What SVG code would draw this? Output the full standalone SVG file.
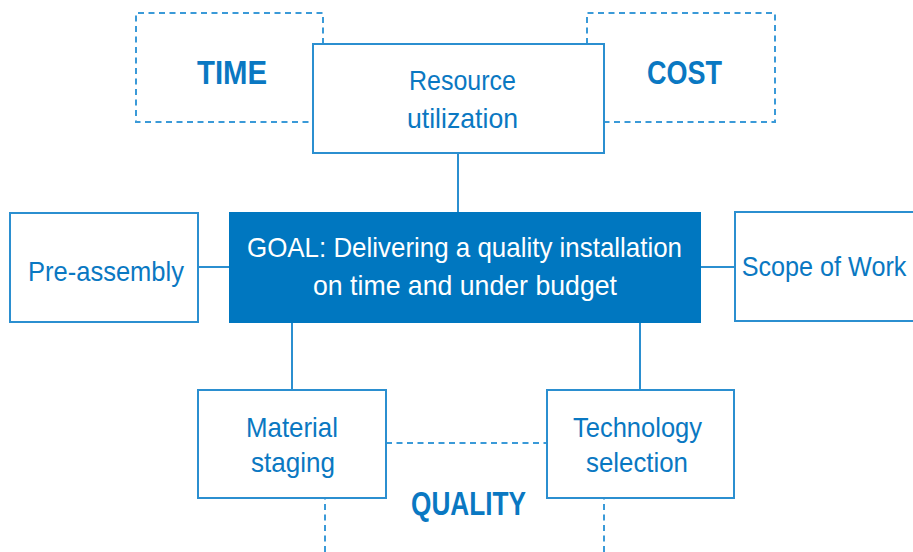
<svg xmlns="http://www.w3.org/2000/svg" width="913" height="552" viewBox="0 0 913 552">
<style>
.box{fill:#fff;stroke:#2b8fd0;stroke-width:2}
.goal{fill:#0077c0;stroke:#0077c0;stroke-width:2}
.ln{stroke:#2b8fd0;stroke-width:2;fill:none}
.dash{stroke:#3a9ad8;stroke-width:2;fill:none;stroke-dasharray:6 4.5}
.t{font-family:"Liberation Sans","Arial",sans-serif;font-size:28px;fill:#0a78c2;text-anchor:middle}
.w{fill:#fff}
.b{font-family:"Liberation Sans","Arial",sans-serif;font-weight:bold;font-size:34px;fill:#0a78c2;text-anchor:middle}
</style>
<rect width="913" height="552" fill="#fff"/>
<g id="dashed">
<path class="dash" d="M323,44 V13 H136 V122 H313"/>
<path class="dash" d="M587,44 V13 H775 V122 H604"/>
<path class="dash" d="M325,552 V498 M604,552 V498 M386,443 H547"/>
</g>
<g id="connectors">
<line class="ln" x1="458" y1="153" x2="458" y2="213"/>
<line class="ln" x1="198" y1="267" x2="230" y2="267"/>
<line class="ln" x1="700" y1="267" x2="735" y2="267"/>
<line class="ln" x1="292" y1="322" x2="292" y2="390"/>
<line class="ln" x1="640" y1="322" x2="640" y2="390"/>
</g>
<g id="time"><text class="b" x="232" y="84" textLength="70" lengthAdjust="spacingAndGlyphs">TIME</text></g>
<g id="cost"><text class="b" x="684.5" y="84" textLength="75" lengthAdjust="spacingAndGlyphs">COST</text></g>
<g id="quality"><text class="b" x="468.5" y="515" textLength="115" lengthAdjust="spacingAndGlyphs">QUALITY</text></g>
<g id="resource">
<rect class="box" x="313" y="44" width="291" height="109"/>
<text class="t" x="462.5" y="90" textLength="107" lengthAdjust="spacingAndGlyphs">Resource</text>
<text class="t" x="462.5" y="128" textLength="111" lengthAdjust="spacingAndGlyphs">utilization</text>
</g>
<g id="goal">
<rect class="goal" x="230" y="213" width="470" height="109"/>
<text class="t w" x="464.5" y="257" textLength="435" lengthAdjust="spacingAndGlyphs">GOAL: Delivering a quality installation</text>
<text class="t w" x="465" y="295" textLength="304" lengthAdjust="spacingAndGlyphs">on time and under budget</text>
</g>
<g id="preassembly">
<rect class="box" x="10" y="213" width="188" height="109"/>
<text class="t" x="106" y="281" textLength="156" lengthAdjust="spacingAndGlyphs">Pre-assembly</text>
</g>
<g id="scope">
<rect class="box" x="735" y="212" width="190" height="109"/>
<text class="t" transform="translate(824,276) scale(0.9,1)" x="0" y="0">Scope of Work</text>
</g>
<g id="material">
<rect class="box" x="198" y="390" width="188" height="108"/>
<text class="t" x="292" y="437" textLength="92" lengthAdjust="spacingAndGlyphs">Material</text>
<text class="t" x="293" y="472" textLength="84" lengthAdjust="spacingAndGlyphs">staging</text>
</g>
<g id="technology">
<rect class="box" x="547" y="390" width="187" height="108"/>
<text class="t" x="637.5" y="437" textLength="129" lengthAdjust="spacingAndGlyphs">Technology</text>
<text class="t" x="637" y="472" textLength="102" lengthAdjust="spacingAndGlyphs">selection</text>
</g>
</svg>
